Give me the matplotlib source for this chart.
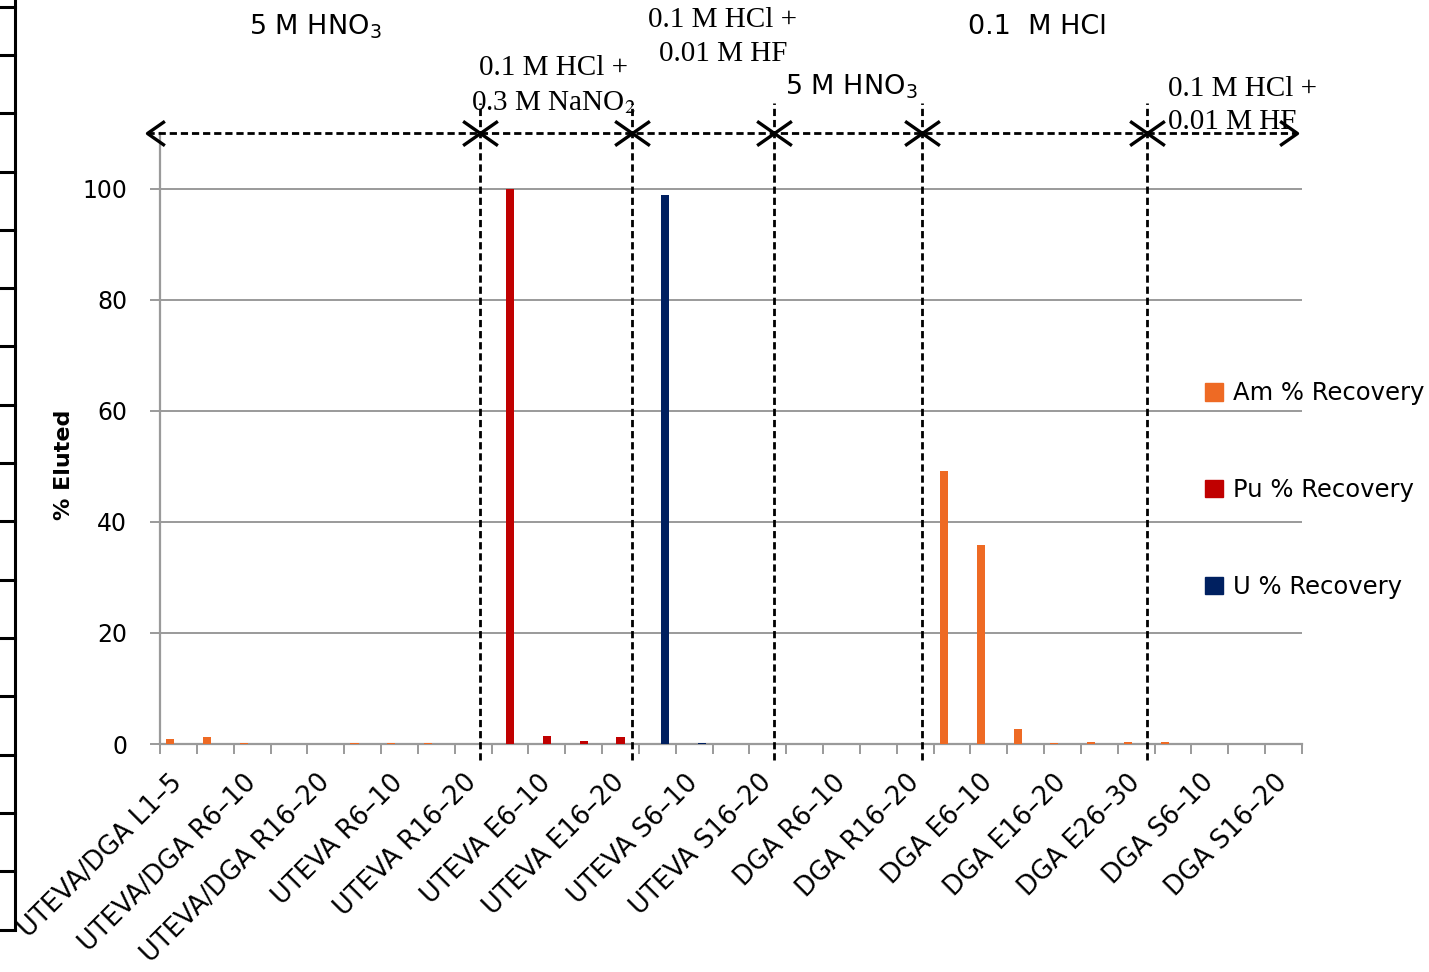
import numpy as np
import matplotlib
matplotlib.use("Agg")
import matplotlib.pyplot as plt
from matplotlib.patches import Patch
from matplotlib.lines import Line2D
from matplotlib.path import Path

plt.rcParams['font.family'] = ['DejaVu Sans']

# fractions collected (31 categories, only every other one is labelled)
categories = ["UTEVA/DGA L1–5", "UTEVA/DGA R1–5", "UTEVA/DGA R6–10", "UTEVA/DGA R11–15",
              "UTEVA/DGA R16–20", "UTEVA R1–5", "UTEVA R6–10", "UTEVA R11–15",
              "UTEVA R16–20", "UTEVA E1–5", "UTEVA E6–10", "UTEVA E11–15",
              "UTEVA E16–20", "UTEVA S1–5", "UTEVA S6–10", "UTEVA S11–15",
              "UTEVA S16–20", "DGA R1–5", "DGA R6–10", "DGA R11–15",
              "DGA R16–20", "DGA E1–5", "DGA E6–10", "DGA E11–15",
              "DGA E16–20", "DGA E21–25", "DGA E26–30", "DGA S1–5",
              "DGA S6–10", "DGA S11–15", "DGA S16–20"]

am = [0.9, 1.3, 0.25, 0, 0, 0.12, 0.12, 0.15, 0, 0, 0, 0, 0, 0, 0, 0,
      0, 0, 0, 0, 0, 49.1, 35.9, 2.7, 0.25, 0.4, 0.3, 0.4, 0, 0, 0]
pu = [0, 0, 0, 0, 0, 0, 0, 0, 0, 100, 1.5, 0.5, 1.2, 0, 0, 0,
      0, 0, 0, 0, 0, 0, 0, 0, 0, 0, 0, 0, 0, 0, 0]
u = [0, 0, 0, 0, 0, 0, 0, 0, 0, 0, 0, 0, 0, 98.9, 0.2, 0,
     0, 0, 0, 0, 0, 0, 0, 0, 0, 0, 0, 0, 0, 0, 0]

series_names = ["Am % Recovery", "Pu % Recovery", "U % Recovery"]
colors = ["#EE6A24", "#C00000", "#002060"]

# eluent steps: divider positions (between fractions) and labels
dividers = [8.19, 12.31, 16.17, 20.18, 26.29]
arrow_ends = [-0.85, 30.36]

W, H = 1429, 972
fig = plt.figure(figsize=(W / 100, H / 100), dpi=100)
ax = fig.add_axes([160 / W, 1 - 744 / H, (1302 - 160) / W, (744 - 133) / H])

x = np.arange(len(categories))
bw = 0.22
for off, vals, c in zip([-bw, 0, bw], [am, pu, u], colors):
    ax.bar(x + off, vals, bw, color=c, zorder=3)

ax.set_xlim(-0.5, len(categories) - 0.5)
ax.set_ylim(0, 110)
ax.set_yticks(np.arange(0, 101, 20))
ax.yaxis.grid(True, color="#9a9a9a", linewidth=1.4, zorder=0)
ax.set_axisbelow(True)
for s in ["top", "right"]:
    ax.spines[s].set_visible(False)
for s in ["left", "bottom"]:
    ax.spines[s].set_color("#9a9a9a")
    ax.spines[s].set_linewidth(1.6)

ax.set_xticks(x[::2])
ax.set_xticklabels(categories[::2], rotation=45, ha="right", va="center",
                   rotation_mode="anchor", fontsize=18.5)
ax.set_xticks(np.arange(-0.5, len(categories), 1), minor=True)
ax.tick_params(axis="x", which="major", length=0, pad=25)
ax.tick_params(axis="x", which="minor", length=7.5, width=1.4, color="#9a9a9a")
ax.tick_params(axis="y", length=7.5, width=1.4, color="#9a9a9a", pad=16, labelsize=17)

ax.set_ylabel("% Eluted", fontsize=16, fontweight="bold", va="center")
ax.yaxis.set_label_coords(-0.084, 0.457)

# dashed step arrows
dash = (0, (2.6, 1.4))
ax.plot(arrow_ends, [110, 110], color="black", lw=2.0, ls=dash,
        clip_on=False, zorder=5)
for d in dividers:
    ax.plot([d, d], [-2.9, 115.4], color="black", lw=2.0, ls=dash,
            clip_on=False, zorder=5)

left_head = Path([(1, 0.7), (0, 0), (1, -0.7)], [Path.MOVETO, Path.LINETO, Path.LINETO])
right_head = Path([(-1, 0.7), (0, 0), (-1, -0.7)], [Path.MOVETO, Path.LINETO, Path.LINETO])
starts = [arrow_ends[0]] + dividers
ends = dividers + [arrow_ends[1]]
ax.plot(starts, [110] * len(starts), ls="none", marker=left_head, ms=25,
        mfc="none", mec="black", mew=2.4, clip_on=False, zorder=6)
ax.plot(ends, [110] * len(ends), ls="none", marker=right_head, ms=25,
        mfc="none", mec="black", mew=2.4, clip_on=False, zorder=6)

sans = dict(fontsize=19.5, ha="center", va="center", clip_on=False)
serif = dict(fontsize=21, family="Liberation Serif", math_fontfamily="stix",
             va="center", clip_on=False)
ax.text(3.71, 129.1, "5 M HNO$_3$", **sans)
ax.text(18.26, 118.3, "5 M HNO$_3$", **sans)
ax.text(23.31, 129.1, "0.1  M HCl", **sans)
ax.text(10.17, 121.7, "0.1 M HCl +", ha="center", **serif)
ax.text(10.17, 115.5, "0.3 M NaNO$_2$", ha="center", **serif)
ax.text(14.78, 130.3, "0.1 M HCl +", ha="center", **serif)
ax.text(14.78, 124.2, "0.01 M HF", ha="center", **serif)
ax.text(26.86, 118.0, "0.1 M HCl +", ha="left", **serif)
ax.text(26.86, 111.9, "0.01 M HF", ha="left", **serif)

handles = [Patch(color=c) for c in colors]
fig.legend(handles, series_names, loc="center left", bbox_to_anchor=(1205 / W, 1 - 490 / H),
           frameon=False, fontsize=17.5, handlelength=0.75, handleheight=0.75,
           handletextpad=0.4, labelspacing=3.0, borderpad=0, borderaxespad=0)

# edge of a neighbouring chart cropped into the picture
fig.add_artist(Line2D([15 / W, 15 / W], [1, 1 - 929 / H], color="black", lw=2.2))
for ty in [7] + [55 + 58.3 * k for k in range(16)]:
    fig.add_artist(Line2D([0, 15 / W], [1 - ty / H, 1 - ty / H], color="black", lw=2.2))

fig.savefig("out.png", dpi=100)
